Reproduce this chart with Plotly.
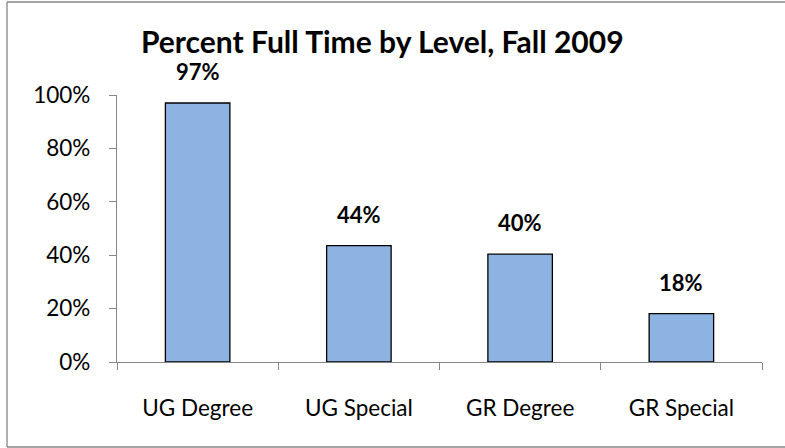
import plotly.graph_objects as go

# data
levels = ['UG Degree', 'UG Special', 'GR Degree', 'GR Special']
pct_full_time = [0.97, 0.436, 0.404, 0.181]
y_ticks = [0, 0.2, 0.4, 0.6, 0.8, 1.0]
y_tick_text = ['0%', '20%', '40%', '60%', '80%', '100%']

FONT = 'Lato'
AXIS_GREY = '#868686'

fig = go.Figure()
fig.add_trace(go.Bar(x=levels, y=pct_full_time,
                     marker=dict(color='#8DB3E2', line=dict(color='black', width=1.3)),
                     hoverinfo='skip'))

# data labels above the bars
for lvl, v in zip(levels, pct_full_time):
    fig.add_annotation(x=lvl, y=v, text='<b>%d%%</b>' % round(v * 100),
                       showarrow=False, yanchor='bottom', yshift=16,
                       font=dict(family=FONT, size=22, color='black'))

fig.update_layout(
    width=785, height=448,
    margin=dict(l=117, r=23, t=95, b=86),
    paper_bgcolor='white', plot_bgcolor='white',
    showlegend=False,
    bargap=0.6,
    title=dict(text='<b>Percent Full Time by Level, Fall 2009</b>',
               x=0.487, xanchor='center', y=0.905, yanchor='middle',
               font=dict(family=FONT, size=30, color='black')),
    font=dict(family=FONT, size=22.5, color='black'),
)
fig.update_yaxes(range=[0, 1], tickvals=y_ticks, ticktext=y_tick_text,
                 showgrid=False, zeroline=False, showline=True,
                 linecolor=AXIS_GREY, linewidth=1.3,
                 ticks='outside', ticklen=7, tickcolor=AXIS_GREY,
                 ticklabelstandoff=14, automargin=False, fixedrange=True)
fig.update_xaxes(showgrid=False, showline=True, linecolor=AXIS_GREY, linewidth=1.3,
                 ticks='outside', tickson='boundaries', ticklen=7, tickcolor=AXIS_GREY,
                 ticklabelstandoff=26, automargin=False, fixedrange=True)

# chart border (its right edge lies outside the picture)
bx0, bx1 = -110 / 645, 1.1
by0, by1 = -85 / 267, 1 + 93 / 267
for x0, y0, x1, y1 in [(bx0, by1, bx1, by1), (bx0, by0, bx0, by1), (bx0, by0, bx1, by0)]:
    fig.add_shape(type='line', xref='paper', yref='paper', x0=x0, y0=y0, x1=x1, y1=y1,
                  line=dict(color=AXIS_GREY, width=1.3))

# drop the default page margin and scrollbars so the figure fills the window
fig.write_html('out.html', config={'displayModeBar': False},
               post_script="document.body.style.margin='0';"
                           "document.body.style.overflow='hidden';"
                           "document.documentElement.style.overflow='hidden';")
